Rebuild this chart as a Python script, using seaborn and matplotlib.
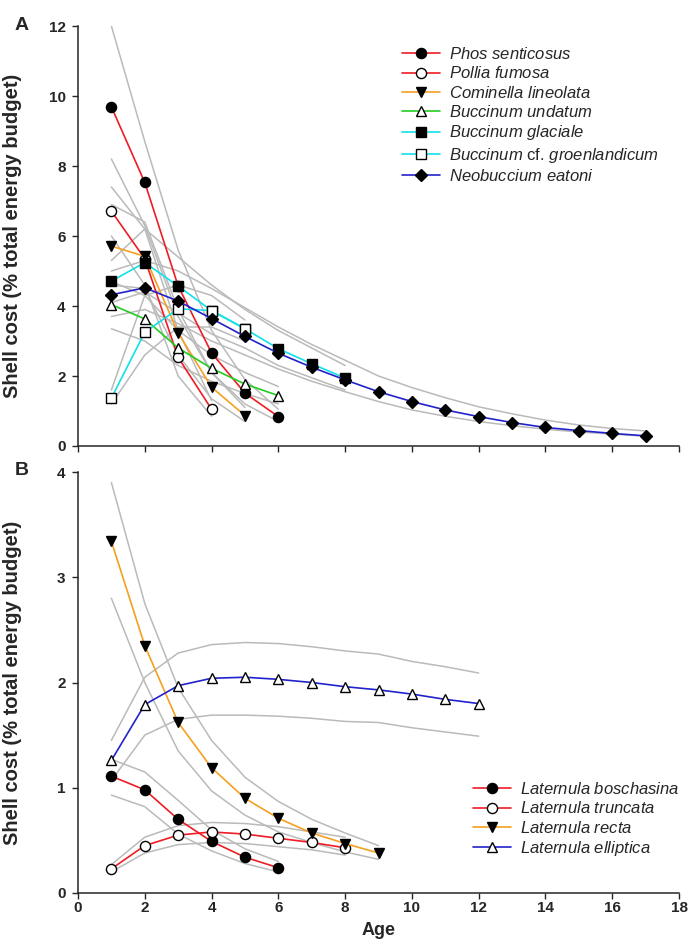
import matplotlib
matplotlib.use("Agg")
import matplotlib.pyplot as plt
import seaborn as sns
import numpy as np
import pandas as pd

# ---------------- Panel A data ----------------
phos_age = [1, 2, 3, 4, 5, 6]
phos_val = [9.69, 7.53, 4.57, 2.66, 1.51, 0.84]
phos_hi = [12.0, 8.7, 5.6, 3.3, 1.9, 1.05]
phos_lo = [8.2, 6.3, 3.7, 2.1, 1.2, 0.7]

pollia_age = [1, 2, 3, 4]
pollia_val = [6.71, 5.35, 2.53, 1.05]
pollia_hi = [7.4, 6.2, 3.3, 1.3]
pollia_lo = [6.0, 4.6, 2.0, 0.85]

comin_age = [1, 2, 3, 4, 5]
comin_val = [5.71, 5.42, 3.23, 1.68, 0.87]
comin_hi = [6.9, 6.4, 3.9, 2.1, 1.1]
comin_lo = [4.6, 4.5, 2.6, 1.35, 0.7]

undat_age = [1, 2, 3, 4, 5, 6]
undat_val = [4.04, 3.63, 2.80, 2.22, 1.77, 1.44]
undat_hi = [4.7, 4.3, 3.3, 2.6, 2.1, 1.7]
undat_lo = [3.35, 3.0, 2.3, 1.85, 1.5, 1.2]

glac_age = [1, 2, 3, 4, 5, 6, 7, 8]
glac_val = [4.71, 5.24, 4.57, 3.87, 3.35, 2.78, 2.35, 1.94]
glac_hi = [5.3, 6.2, 5.4, 4.6, 3.9, 3.3, 2.8, 2.3]
glac_lo = [4.1, 4.4, 3.8, 3.2, 2.8, 2.3, 1.95, 1.6]

groen_age = [1, 2, 3, 4, 5]
groen_val = [1.37, 3.25, 3.92, 3.87, 3.35]
groen_hi = [1.6, 4.3, 4.6, 4.3, 3.6]
groen_lo = [1.2, 2.6, 3.4, 3.4, 3.0]

neob_age = list(range(1, 18))
neob_val = [4.32, 4.52, 4.14, 3.64, 3.13, 2.65, 2.25, 1.89, 1.55, 1.27,
            1.03, 0.84, 0.67, 0.53, 0.44, 0.36, 0.29]
neob_hi = [5.0, 5.3, 5.0, 4.5, 3.95, 3.4, 2.9, 2.45, 2.0, 1.67,
           1.38, 1.12, 0.92, 0.74, 0.6, 0.5, 0.43]
neob_lo = [3.7, 3.9, 3.5, 3.0, 2.6, 2.2, 1.85, 1.55, 1.27, 1.03,
           0.85, 0.7, 0.58, 0.48, 0.4, 0.34, 0.28]

# ---------------- Panel B data ----------------
bosch_age = [1, 2, 3, 4, 5, 6]
bosch_val = [1.11, 0.98, 0.70, 0.49, 0.34, 0.24]
bosch_hi = [1.27, 1.15, 0.88, 0.60, 0.42, 0.30]
bosch_lo = [0.93, 0.82, 0.56, 0.40, 0.28, 0.20]

trunc_age = [1, 2, 3, 4, 5, 6, 7, 8]
trunc_val = [0.23, 0.45, 0.55, 0.58, 0.56, 0.52, 0.48, 0.43]
trunc_hi = [0.27, 0.53, 0.64, 0.67, 0.66, 0.63, 0.58, 0.53]
trunc_lo = [0.20, 0.38, 0.46, 0.48, 0.47, 0.44, 0.41, 0.36]

recta_age = [1, 2, 3, 4, 5, 6, 7, 8, 9]
recta_val = [3.34, 2.35, 1.62, 1.19, 0.90, 0.71, 0.57, 0.47, 0.38]
recta_hi = [3.9, 2.75, 1.95, 1.45, 1.10, 0.87, 0.70, 0.57, 0.45]
recta_lo = [2.8, 2.0, 1.35, 0.97, 0.74, 0.58, 0.48, 0.39, 0.32]

ellip_age = list(range(1, 13))
ellip_val = [1.26, 1.79, 1.97, 2.04, 2.05, 2.03, 2.00, 1.96, 1.93, 1.89, 1.84, 1.80]
ellip_hi = [1.45, 2.05, 2.28, 2.36, 2.38, 2.37, 2.34, 2.30, 2.27, 2.20, 2.15, 2.09]
ellip_lo = [1.07, 1.50, 1.65, 1.69, 1.69, 1.68, 1.66, 1.63, 1.62, 1.57, 1.53, 1.49]

x_ticks = [0, 2, 4, 6, 8, 10, 12, 14, 16, 18]
yticks_A = [0, 2, 4, 6, 8, 10, 12]
yticks_B = [0, 1, 2, 3, 4]

RED = "#ee1c24"
ORANGE = "#f4a020"
GREEN = "#22cc22"
CYAN = "#11e0e8"
BLUE = "#2222cc"
GRAY = "#bababa"

series_A = [
    ("Phos senticosus", phos_age, phos_val, phos_hi, phos_lo, RED, "o", True),
    ("Pollia fumosa", pollia_age, pollia_val, pollia_hi, pollia_lo, RED, "o", False),
    ("Cominella lineolata", comin_age, comin_val, comin_hi, comin_lo, ORANGE, "v", True),
    ("Buccinum undatum", undat_age, undat_val, undat_hi, undat_lo, GREEN, "^", False),
    ("Buccinum glaciale", glac_age, glac_val, glac_hi, glac_lo, CYAN, "s", True),
    ("Buccinum cf. groenlandicum", groen_age, groen_val, groen_hi, groen_lo, CYAN, "s", False),
    ("Neobuccium eatoni", neob_age, neob_val, neob_hi, neob_lo, BLUE, "D", True),
]
labels_A = [r"$\it{Phos\ senticosus}$", r"$\it{Pollia\ fumosa}$",
            r"$\it{Cominella\ lineolata}$", r"$\it{Buccinum\ undatum}$",
            r"$\it{Buccinum\ glaciale}$", r"$\it{Buccinum}$ cf. $\it{groenlandicum}$",
            r"$\it{Neobuccium\ eatoni}$"]

series_B = [
    ("Laternula boschasina", bosch_age, bosch_val, bosch_hi, bosch_lo, RED, "o", True),
    ("Laternula truncata", trunc_age, trunc_val, trunc_hi, trunc_lo, RED, "o", False),
    ("Laternula recta", recta_age, recta_val, recta_hi, recta_lo, ORANGE, "v", True),
    ("Laternula elliptica", ellip_age, ellip_val, ellip_hi, ellip_lo, BLUE, "^", False),
]
labels_B = [r"$\it{Laternula\ boschasina}$", r"$\it{Laternula\ truncata}$",
            r"$\it{Laternula\ recta}$", r"$\it{Laternula\ elliptica}$"]

sns.set_style("ticks")
plt.rcParams["font.family"] = ["Liberation Sans", "DejaVu Sans"]
plt.rcParams["mathtext.fontset"] = "custom"
plt.rcParams["mathtext.it"] = "Liberation Sans:italic"
plt.rcParams["mathtext.rm"] = "Liberation Sans"

fig = plt.figure(figsize=(6.9, 9.44), dpi=100)
axA = fig.add_axes([78 / 690, 1 - 446 / 944, 601 / 690, 420 / 944])
axB = fig.add_axes([78 / 690, 1 - 893 / 944, 601 / 690, 421 / 944])

MSIZE = {"o": 7.3, "s": 6.6, "D": 6.4, "v": 7.6, "^": 7.6}


def draw(ax, series):
    handles = []
    for name, age, val, hi, lo, col, mk, filled in series:
        for band in (hi, lo):
            sns.lineplot(x=age, y=band, ax=ax, color=GRAY, lw=1.1,
                         legend=False, zorder=1, estimator=None)
    for name, age, val, hi, lo, col, mk, filled in series:
        sns.lineplot(x=age, y=val, ax=ax, color=col, lw=1.2, marker=mk,
                     markersize=MSIZE[mk], markeredgecolor="black",
                     markeredgewidth=1.0,
                     markerfacecolor="black" if filled else "white",
                     legend=False, zorder=3, estimator=None)
        handles.append(ax.lines[-1])
    return handles


hA = draw(axA, series_A)
hB = draw(axB, series_B)

for ax in (axA, axB):
    sns.despine(ax=ax)
    ax.set_xlim(0, 18)
    ax.set_xticks(x_ticks)
    ax.tick_params(axis="both", direction="out", length=4.5, width=1.0,
                   labelsize=11)
    ax.tick_params(axis="y", pad=4.5)
    ax.tick_params(axis="x", pad=1.5)
    for sp in ("left", "bottom"):
        ax.spines[sp].set_linewidth(1.1)
    ax.set_ylabel("Shell cost (% total energy budget)", fontsize=14.5,
                  fontweight="bold")
    ax.yaxis.set_label_coords(-0.093, 0.5)

axA.set_ylim(0, 12)
axA.set_yticks(yticks_A)
axA.set_xticklabels([])
axA.set_xlabel("")
axB.set_ylim(0, 4)
axB.set_yticks(yticks_B)
axB.set_xlabel("Age", fontsize=13, fontweight="bold")
axB.xaxis.set_label_coords(0.5, -0.068)
for t in axB.get_yticklabels() + axB.get_xticklabels() + axA.get_yticklabels():
    t.set_fontweight("bold")

axA.legend(hA, labels_A, loc="upper left", bbox_to_anchor=(0.539, 0.952),
           frameon=False, fontsize=12, handlelength=2.28, labelspacing=0.2,
           borderaxespad=0, borderpad=0, handletextpad=0.54)
axB.legend(hB, labels_B, loc="upper left", bbox_to_anchor=(0.657, 0.266),
           frameon=False, fontsize=12, handlelength=2.28, labelspacing=0.2,
           borderaxespad=0, borderpad=0, handletextpad=0.54)

fig.text(15 / 690, 1 - 25 / 944, "A", fontsize=14, fontweight="bold",
         va="center", ha="left")
fig.text(15 / 690, 1 - 471 / 944, "B", fontsize=14, fontweight="bold",
         va="center", ha="left")

fig.savefig("out.png", dpi=100)
